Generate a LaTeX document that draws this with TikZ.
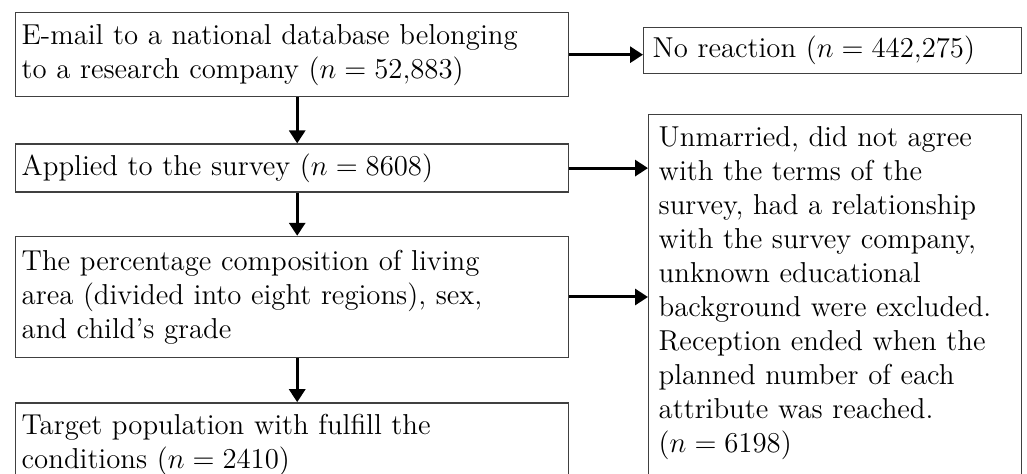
\documentclass[tikz,border=0pt]{standalone}
\usepackage{tikz}
\usetikzlibrary{positioning,arrows.meta}
\tikzset{
    flow-box/.style = {draw=black!75, line width=0.7pt, rectangle, align=left, text width=270.5pt, inner xsep=3pt, inner ysep=3pt, font=\fontsize{14.4}{17}\selectfont},
    side-box/.style = {flow-box, anchor=north west, text width=176.5pt, inner xsep=5pt, inner ysep=6pt},
    flow-arrow/.style = {-{Triangle[width=8pt,length=6.5pt]}, line width=1.5pt},
}
\begin{document}
\begin{tikzpicture}
\useasboundingbox (0,0) rectangle (513.5pt,-237pt);
\clip (0,0) rectangle (513.5pt,-237pt);
\node[flow-box, anchor=north west, minimum height=42pt] (email) at (7.5pt,-6pt) {E-mail to a national database belonging\\to a research company ($n = 52{,}883$)};
\node[flow-box, below=23pt of email, minimum height=24pt] (applied) {Applied to the survey ($n = 8608$)};
\node[flow-box, below=21.5pt of applied, minimum height=60.5pt] (quota) {The percentage composition of living\\area (divided into eight regions), sex,\\and child’s grade};
\node[flow-box, below=22pt of quota, minimum height=42pt] (target) {Target population with fulfill the\\conditions ($n = 2410$)};
\node[side-box, text width=180pt, inner xsep=4.5pt, inner ysep=3pt, minimum height=23pt] (noreact) at (321.5pt,-13.5pt) {No reaction ($n = 442{,}275$)};
\node[side-box, text depth=165pt] (excluded) at (324pt,-57pt) {Unmarried, did not agree\\with the terms of the\\survey, had a relationship\\with the survey company,\\unknown educational\\background were excluded.\\Reception ended when the\\planned number of each\\attribute was reached.\\($n = 6198$)};
\draw[flow-arrow] ([xshift=2.5pt]email.south) -- ([xshift=2.5pt]applied.north);
\draw[flow-arrow] ([xshift=2.5pt]applied.south) -- ([xshift=2.5pt]quota.north);
\draw[flow-arrow] ([xshift=2.5pt]quota.south) -- ([xshift=2.5pt]target.north);
\draw[flow-arrow] (email.east) -- (email.east -| noreact.west);
\draw[flow-arrow] (applied.east) -- (applied.east -| excluded.west);
\draw[flow-arrow] (quota.east) -- (quota.east -| excluded.west);
\end{tikzpicture}
\end{document}
